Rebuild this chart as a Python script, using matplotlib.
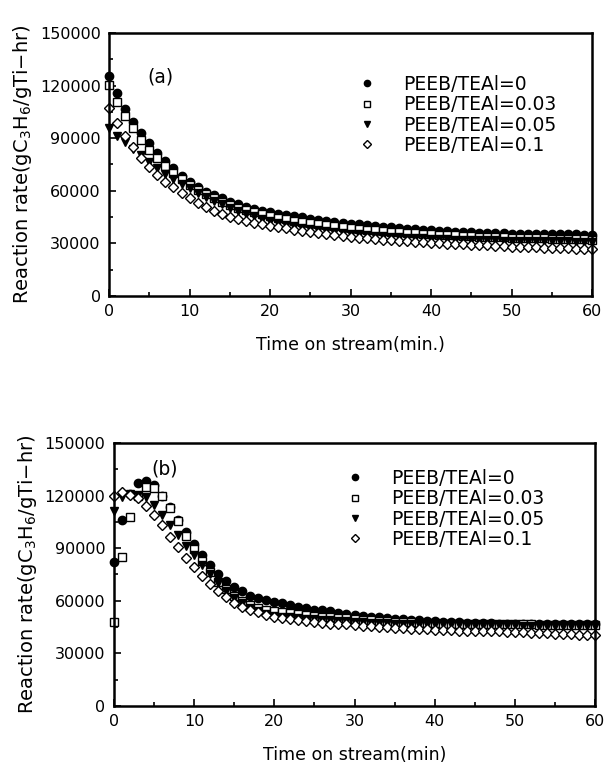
import numpy as np
import matplotlib
matplotlib.use("Agg")
import matplotlib.pyplot as plt
from matplotlib.ticker import MultipleLocator

t = list(range(61))

labels = ["PEEB/TEAl=0", "PEEB/TEAl=0.03", "PEEB/TEAl=0.05", "PEEB/TEAl=0.1"]

# panel (a)
a_0 = [125500, 115500, 106500, 99500, 93000, 87000, 81700, 77200, 72800, 68500, 65200,
       62400, 59500, 57600, 55700, 53800, 52300, 50900, 49600, 48700, 47800,
       47000, 46200, 45500, 44800, 44100, 43500, 42900, 42300, 41800, 41300,
       40800, 40300, 39900, 39500, 39100, 38700, 38300, 38000, 37700, 37400,
       37100, 36900, 36700, 36500, 36300, 36100, 35900, 35800, 35700, 35600,
       35500, 35400, 35300, 35300, 35200, 35200, 35100, 35100, 35000, 35000]
a_003 = [120400, 110800, 102700, 95600, 89000, 83300, 78500, 74200, 70000, 66600, 63300,
         60500, 58000, 55800, 53800, 52000, 50400, 49000, 47700, 46600, 45600,
         44700, 43800, 43000, 42300, 41600, 41000, 40400, 39800, 39300, 38800,
         38300, 37900, 37500, 37100, 36700, 36400, 36100, 35800, 35500, 35200,
         35000, 34700, 34500, 34300, 34100, 33900, 33700, 33500, 33400, 33200,
         33100, 33000, 32900, 32800, 32700, 32600, 32500, 32400, 32300, 32200]
a_005 = [95700, 91300, 88000, 84000, 80500, 76500, 73000, 69800, 66800, 64000, 61300,
         58800, 56400, 54200, 52200, 50300, 48600, 47000, 45500, 44100, 42800,
         41700, 40700, 39800, 39000, 38300, 37600, 37000, 36500, 36000, 35500,
         35100, 34700, 34400, 34100, 33800, 33500, 33300, 33100, 32900, 32700,
         32500, 32400, 32200, 32100, 32000, 31900, 31800, 31700, 31600, 31500,
         31400, 31300, 31300, 31200, 31200, 31100, 31100, 31000, 31000, 31000]
a_01 = [107000, 98900, 91300, 84800, 78500, 73400, 69000, 65200, 62000, 58600, 55700,
        53000, 50700, 48700, 46900, 45300, 44000, 42800, 41800, 40900, 40100,
        39300, 38500, 37800, 37100, 36500, 35900, 35300, 34800, 34300, 33800,
        33300, 32900, 32500, 32100, 31800, 31500, 31200, 30900, 30600, 30300,
        30000, 29800, 29600, 29400, 29200, 29000, 28800, 28600, 28400, 28200,
        28000, 27800, 27700, 27500, 27400, 27200, 27100, 27000, 26900, 26800]

# panel (b)
b_0 = [82000, 106000, 121000, 127000, 128500, 126000, 120000, 113500, 106000, 99000, 92500,
       86000, 80500, 75500, 71500, 68000, 65500, 63000, 61500, 60500, 59500,
       58500, 57500, 56500, 56000, 55000, 54500, 54000, 53000, 52500, 52000,
       51500, 51000, 50500, 50000, 49500, 49500, 49000, 49000, 48500, 48500,
       48000, 48000, 48000, 47500, 47500, 47500, 47500, 47000, 47000, 47000,
       47000, 47000, 46500, 46500, 46500, 46500, 46500, 46500, 46500, 46500]
b_003 = [48000, 85000, 108000, 120000, 125000, 124500, 119500, 113000, 105500, 97000, 89500,
         82500, 76500, 71000, 66500, 63000, 60000, 57500, 56000, 55000, 54000,
         53500, 53000, 52500, 52000, 51500, 51000, 50500, 50000, 50000, 49500,
         49000, 49000, 48500, 48500, 48000, 48000, 48000, 47500, 47500, 47500,
         47000, 47000, 47000, 47000, 47000, 46500, 46500, 46500, 46500, 46500,
         46500, 46500, 46000, 46000, 46000, 46000, 46000, 46000, 46000, 46000]
b_005 = [111000, 119000, 121000, 120500, 119000, 114500, 109000, 103500, 97500, 91500, 86000,
         80500, 75000, 70000, 65500, 61500, 58500, 56000, 54000, 52500, 51500,
         51000, 50500, 50000, 49500, 49500, 49000, 49000, 48500, 48500, 48000,
         48000, 47500, 47500, 47500, 47000, 47000, 47000, 47000, 46500, 46500,
         46500, 46500, 46500, 46000, 46000, 46000, 46000, 46000, 46000, 46000,
         45500, 45500, 45500, 45500, 45500, 45500, 45500, 45500, 45500, 45500]
b_01 = [120000, 122000, 120500, 118500, 114000, 109000, 103000, 96500, 90500, 84500, 79000,
        74000, 69500, 65500, 62000, 59000, 56500, 55000, 53500, 52000, 51000,
        50000, 49500, 49000, 48500, 48000, 47500, 47000, 47000, 46500, 46000,
        45500, 45500, 45000, 45000, 44500, 44500, 44000, 44000, 44000, 43500,
        43500, 43500, 43000, 43000, 43000, 42500, 42500, 42500, 42000, 42000,
        42000, 41500, 41500, 41500, 41000, 41000, 41000, 40500, 40500, 40500]

styles = [dict(marker="o", mfc="black", mec="black"),
          dict(marker="s", mfc="white", mec="black"),
          dict(marker="v", mfc="black", mec="black"),
          dict(marker="D", mfc="white", mec="black")]
sizes = [6, 6, 6, 5.5]

fig = plt.figure(figsize=(6.06, 7.70), dpi=100)
ax1 = fig.add_axes([0.180, 0.6156, 0.797, 0.3416])
ax2 = fig.add_axes([0.188, 0.0831, 0.794, 0.3416])

def draw(ax, series, tag, tagpos, xlab, legpos):
    for ys, st, lab, ms in zip(series, styles, labels, sizes):
        ax.plot(t, ys, ls="none", ms=ms, mew=1.0, label=lab, clip_on=False, **st)
    ax.set_xlim(0, 60)
    ax.set_ylim(0, 150000)
    ax.xaxis.set_major_locator(MultipleLocator(10))
    ax.xaxis.set_minor_locator(MultipleLocator(5))
    ax.yaxis.set_major_locator(MultipleLocator(30000))
    ax.yaxis.set_minor_locator(MultipleLocator(15000))
    ax.tick_params(which="both", direction="in", top=False, right=False,
                   labelsize=11.5, width=1.2)
    ax.tick_params(which="major", length=5, pad=6)
    ax.tick_params(which="minor", length=3)
    for s in ax.spines.values():
        s.set_linewidth(1.8)
    ax.text(tagpos[0], tagpos[1], tag, transform=ax.transAxes, fontsize=13.5,
            ha="left", va="center")
    ax.set_xlabel(xlab, fontsize=12.5, labelpad=12)
    ax.set_ylabel("Reaction rate(gC$_3$H$_6$/gTi$-$hr)", fontsize=14, labelpad=4)
    ax.legend(loc="upper left", bbox_to_anchor=legpos, frameon=False,
              fontsize=13.5, handletextpad=1.42, labelspacing=0.07,
              borderaxespad=0, borderpad=0, handlelength=1.0, markerscale=0.75)

draw(ax1, [a_0, a_003, a_005, a_01], "(a)", (0.079, 0.833),
     "Time on stream(min.)", (0.515, 0.840))
draw(ax2, [b_0, b_003, b_005, b_01], "(b)", (0.077, 0.901),
     "Time on stream(min)", (0.481, 0.901))

fig.savefig("out.png", dpi=100)
